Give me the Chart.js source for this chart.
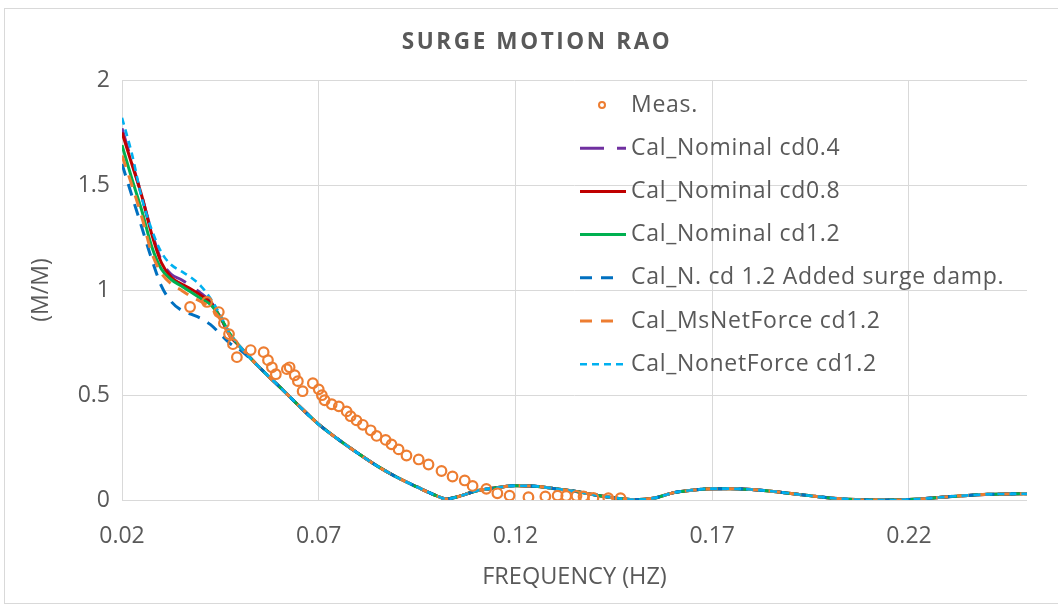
<!DOCTYPE html>
<html><head><meta charset="utf-8">
<script src="https://cdn.jsdelivr.net/npm/chart.js@4/dist/chart.umd.min.js"></script>
<style>html,body{margin:0;padding:0;background:#fff;}canvas{display:block;}</style>
</head><body>
<canvas id="c" width="1058" height="609"></canvas>
<script>
const chartTitle = 'SURGE MOTION RAO';
const xAxisTitle = 'FREQUENCY (HZ)';
const yAxisTitle = '(M/M)';
const xTickValues = [0.02, 0.07, 0.12, 0.17, 0.22];
const xTickLabels = ['0.02', '0.07', '0.12', '0.17', '0.22'];
const yTickValues = [0, 0.5, 1, 1.5, 2];
const yTickLabels = ['0', '0.5', '1', '1.5', '2'];

const seriesLabels = ['Meas.', 'Cal_Nominal cd0.4', 'Cal_Nominal cd0.8', 'Cal_Nominal cd1.2',
  'Cal_N. cd 1.2 Added surge damp.', 'Cal_MsNetForce cd1.2', 'Cal_NonetForce cd1.2'];

const measFreq = [0.0373,0.0416,0.0446,0.0459,0.0472,0.0482,0.0492,0.0527,0.0560,0.0571,0.0581,0.0591,0.0619,0.0626,0.0639,0.0647,0.0659,0.0685,0.0700,0.0708,0.0715,0.0733,0.0751,0.0771,0.0781,0.0796,0.0812,0.0832,0.0847,0.0870,0.0885,0.0903,0.0923,0.0954,0.0979,0.1012,0.1040,0.1071,0.1091,0.1126,0.1154,0.1185,0.1233,0.1276,0.1307,0.1329,0.1355,0.1373,0.1398,0.1436,0.1467];
const measVal = [0.919,0.943,0.895,0.842,0.790,0.742,0.680,0.714,0.704,0.666,0.632,0.599,0.623,0.632,0.594,0.566,0.518,0.556,0.527,0.499,0.475,0.456,0.446,0.422,0.399,0.379,0.358,0.332,0.305,0.286,0.265,0.241,0.212,0.193,0.169,0.138,0.112,0.093,0.067,0.053,0.032,0.021,0.013,0.017,0.021,0.019,0.019,0.017,0.010,0.009,0.009];

const calcFreq = [0.020,0.0225,0.025,0.0275,0.030,0.0325,0.035,0.0375,0.040,0.0425,0.045,0.0475,
  0.050,0.055,0.060,0.065,0.070,0.075,0.080,0.085,0.090,0.095,0.100,0.1025,0.105,
  0.110,0.115,0.120,0.125,0.130,0.135,0.140,0.145,0.150,0.155,0.160,0.165,0.170,0.175,0.180,
  0.185,0.190,0.195,0.200,0.205,0.210,0.215,0.220,0.225,0.230,0.235,0.240,0.245,0.250];

const nominalCd04 = [1.77,1.61,1.45,1.28,1.14,1.075,1.05,1.02,0.985,0.945,0.87,0.78,
  0.73,0.63,0.54,0.448,0.36,0.288,0.222,0.16,0.107,0.062,0.02,0.005,0.014,
  0.043,0.058,0.068,0.066,0.054,0.042,0.025,0.01,0.002,0.008,0.034,0.047,0.054,0.054,0.05,
  0.042,0.031,0.02,0.01,0.003,0.0,0.0,0.002,0.008,0.016,0.022,0.027,0.029,0.03];
const nominalCd08 = [1.75,1.60,1.45,1.27,1.13,1.06,1.03,1.005,0.975,0.94,0.87,0.78,
  0.73,0.63,0.54,0.448,0.36,0.288,0.222,0.16,0.107,0.062,0.02,0.005,0.014,
  0.043,0.058,0.068,0.066,0.054,0.042,0.025,0.01,0.002,0.008,0.034,0.047,0.054,0.054,0.05,
  0.042,0.031,0.02,0.01,0.003,0.0,0.0,0.002,0.008,0.016,0.022,0.027,0.029,0.03];
const nominalCd12 = [1.69,1.53,1.38,1.21,1.10,1.05,1.02,0.99,0.96,0.93,0.87,0.79,
  0.73,0.63,0.54,0.448,0.36,0.288,0.222,0.16,0.107,0.062,0.02,0.005,0.014,
  0.043,0.058,0.068,0.066,0.054,0.042,0.025,0.01,0.002,0.008,0.034,0.047,0.054,0.054,0.05,
  0.042,0.031,0.02,0.01,0.003,0.0,0.0,0.002,0.008,0.016,0.022,0.027,0.029,0.03];
const addedSurgeDamp = [1.60,1.45,1.30,1.15,1.02,0.945,0.905,0.885,0.865,0.835,0.79,0.745,
  0.715,0.63,0.54,0.448,0.36,0.288,0.222,0.16,0.107,0.062,0.02,0.005,0.014,
  0.043,0.058,0.068,0.066,0.054,0.042,0.025,0.01,0.002,0.008,0.034,0.047,0.054,0.054,0.05,
  0.042,0.031,0.02,0.01,0.003,0.0,0.0,0.002,0.008,0.016,0.022,0.027,0.029,0.03];
const msNetForce = [1.64,1.50,1.35,1.18,1.08,1.03,1.00,0.97,0.945,0.915,0.86,0.78,
  0.73,0.63,0.54,0.448,0.36,0.288,0.222,0.16,0.107,0.062,0.02,0.005,0.014,
  0.043,0.058,0.068,0.066,0.054,0.042,0.025,0.01,0.002,0.008,0.034,0.047,0.054,0.054,0.05,
  0.042,0.031,0.02,0.01,0.003,0.0,0.0,0.002,0.008,0.016,0.022,0.027,0.029,0.03];
const noNetForce = [1.82,1.65,1.44,1.29,1.18,1.12,1.09,1.06,1.02,0.96,0.88,0.79,
  0.73,0.63,0.54,0.448,0.36,0.288,0.222,0.16,0.107,0.062,0.02,0.005,0.014,
  0.043,0.058,0.068,0.066,0.054,0.042,0.025,0.01,0.002,0.008,0.034,0.047,0.054,0.054,0.05,
  0.042,0.031,0.02,0.01,0.003,0.0,0.0,0.002,0.008,0.016,0.022,0.027,0.029,0.03];

const pts = (xs, ys) => xs.map((x, i) => ({x: x, y: ys[i]}));
const TXT = '#595959';
const FONT = "'Open Sans', sans-serif";

function calcDs(label, vals, color, dash, width, order, sampleEnd) {
  return {label: label, data: pts(calcFreq, vals), borderColor: color, backgroundColor: color,
    borderDash: dash, borderWidth: width, pointRadius: 0, fill: false,
    cubicInterpolationMode: 'monotone', order: order, sampleEnd: sampleEnd};
}

const datasets = [
  {label: seriesLabels[0], data: pts(measFreq, measVal), showLine: false, borderColor: '#ED7D31',
   backgroundColor: 'rgba(255,255,255,0)', pointBackgroundColor: 'rgba(255,255,255,0)',
   pointBorderColor: '#ED7D31', pointRadius: 4.8, pointBorderWidth: 2.2, order: 0},
  calcDs(seriesLabels[1], nominalCd04, '#7030A0', [24, 13], 3, 6, 626),
  calcDs(seriesLabels[2], nominalCd08, '#C00000', [], 3, 5, 626),
  calcDs(seriesLabels[3], nominalCd12, '#00B050', [], 3, 4, 626),
  calcDs(seriesLabels[4], addedSurgeDamp, '#0070C0', [12, 9], 3, 3, 614),
  calcDs(seriesLabels[5], msNetForce, '#ED7D31', [12, 9], 3, 2, 614),
  calcDs(seriesLabels[6], noNetForce, '#00B0F0', [7, 5], 2.6, 1, 626)
];

const framePlugin = {
  id: 'frame',
  beforeDraw(chart) {
    const ctx = chart.ctx;
    ctx.save();
    ctx.fillStyle = '#fff';
    ctx.fillRect(0, 0, chart.width, chart.height);
    ctx.strokeStyle = '#d9d9d9';
    ctx.lineWidth = 1;
    ctx.strokeRect(4.5, 8.5, chart.width + 10, 595);
    ctx.restore();
  },
  afterDraw(chart) {
    const ctx = chart.ctx;
    ctx.save();
    ctx.font = "bold 22.5px " + FONT;
    try { ctx.letterSpacing = '2.6px'; } catch (e) {}
    ctx.fillStyle = TXT;
    ctx.textAlign = 'center';
    ctx.textBaseline = 'middle';
    ctx.fillText(chartTitle, 537, 43);
    ctx.restore();
  }
};

const legendPlugin = {
  id: 'insideLegend',
  afterDatasetsDraw(chart) {
    const ctx = chart.ctx;
    const top = 105, gap = 43.2, x0 = 580, tx = 631;
    ctx.save();
    chart.data.datasets.forEach((ds, i) => {
      const y = top + i * gap;
      if (ds.showLine === false) {
        ctx.beginPath();
        ctx.setLineDash([]);
        ctx.lineWidth = 2;
        ctx.strokeStyle = ds.pointBorderColor;
        ctx.arc(602, y, 3, 0, Math.PI * 2);
        ctx.stroke();
      } else {
        ctx.beginPath();
        ctx.setLineDash(ds.borderDash);
        ctx.lineWidth = ds.borderWidth;
        ctx.strokeStyle = ds.borderColor;
        ctx.moveTo(x0, y);
        ctx.lineTo(ds.sampleEnd, y);
        ctx.stroke();
      }
      ctx.setLineDash([]);
      ctx.font = "23px " + FONT;
      try { ctx.letterSpacing = '0.7px'; } catch (e) {}
      ctx.fillStyle = TXT;
      ctx.textAlign = 'left';
      ctx.textBaseline = 'middle';
      ctx.fillText(ds.label, tx, y);
    });
    ctx.restore();
  }
};

new Chart(document.getElementById('c'), {
  type: 'line',
  data: {datasets: datasets},
  plugins: [framePlugin, legendPlugin],
  options: {
    responsive: false,
    animation: false,
    devicePixelRatio: 1,
    layout: {padding: {top: 80, right: 31, left: 0, bottom: 0}},
    plugins: {legend: {display: false}, title: {display: false}, tooltip: {enabled: false}},
    scales: {
      x: {
        type: 'linear', min: 0.02, max: 0.25,
        afterBuildTicks: s => { s.ticks = xTickValues.map(v => ({value: v})); },
        afterFit: s => { s.height = 109; },
        grid: {color: '#d9d9d9', lineWidth: 1, drawTicks: false},
        border: {display: false},
        ticks: {padding: 23, color: TXT, font: {family: FONT, size: 23},
          callback: v => xTickLabels[xTickValues.findIndex(t => Math.abs(t - v) < 1e-9)] ?? ''},
        title: {display: true, text: xAxisTitle, color: TXT, font: {family: FONT, size: 23.5},
          padding: {top: 0, bottom: 18}}
      },
      y: {
        type: 'linear', min: 0, max: 2,
        afterBuildTicks: s => { s.ticks = yTickValues.map(v => ({value: v})); },
        afterFit: s => { s.width = 122; },
        grid: {color: '#d9d9d9', lineWidth: 1, drawTicks: false},
        border: {display: false},
        ticks: {padding: 12, color: TXT, font: {family: FONT, size: 23},
          callback: v => yTickLabels[yTickValues.findIndex(t => Math.abs(t - v) < 1e-9)] ?? ''},
        title: {display: true, text: yAxisTitle, color: TXT, font: {family: FONT, size: 23},
          padding: {top: 28, bottom: 0}}
      }
    }
  }
});
</script>
</body></html>
